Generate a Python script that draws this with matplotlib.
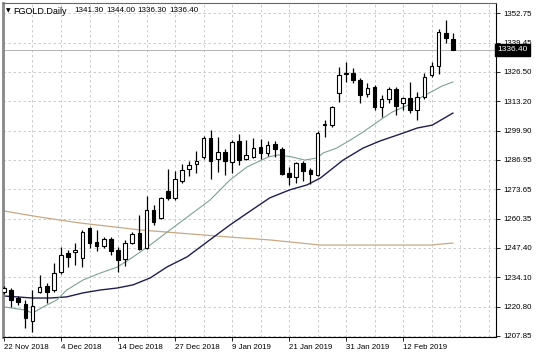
import matplotlib
matplotlib.use("Agg")
import matplotlib.pyplot as plt

# daily candles, 22 Nov 2018 .. 15 Feb 2019
opens = [1227.4, 1228.2, 1224.9, 1222.2, 1214.6, 1227.6, 1230.3, 1228.5, 1236.6, 1245.1,
         1245.5, 1242.8, 1256.3, 1250.0, 1248.2, 1251.4, 1246.4, 1242.4, 1249.6, 1254.1,
         1247.3, 1264.4, 1260.8, 1272.9, 1269.8, 1277.4, 1282.8, 1285.0, 1288.2, 1296.7,
         1287.3, 1290.4, 1285.9, 1295.3, 1287.3, 1288.2, 1292.6, 1289.9, 1293.9, 1291.7,
         1281.0, 1279.2, 1285.5, 1282.3, 1280.1, 1302.4, 1302.5, 1316.9, 1325.3, 1325.8,
         1322.7, 1316.4, 1319.6, 1310.6, 1314.2, 1318.7, 1312.4, 1314.6, 1309.2, 1315.1,
         1324.9, 1329.0, 1343.8, 1341.3]
highs = [1230.0, 1229.4, 1225.8, 1224.0, 1228.5, 1235.2, 1231.6, 1240.6, 1247.8, 1246.4,
         1249.6, 1255.4, 1256.8, 1255.4, 1252.3, 1252.3, 1247.8, 1250.9, 1254.5, 1262.1,
         1270.6, 1266.6, 1270.2, 1282.8, 1281.9, 1285.0, 1286.4, 1290.8, 1297.6, 1300.3,
         1297.1, 1291.8, 1295.8, 1298.5, 1295.8, 1296.7, 1296.2, 1295.3, 1295.3, 1292.6,
         1283.7, 1285.9, 1286.4, 1283.2, 1299.8, 1304.8, 1311.0, 1328.5, 1330.8, 1328.1,
         1323.6, 1321.3, 1320.5, 1316.0, 1319.6, 1319.6, 1315.1, 1321.8, 1317.3, 1325.8,
         1330.8, 1345.6, 1349.6, 1344.0]
lows = [1226.5, 1220.9, 1221.7, 1211.4, 1209.6, 1227.0, 1222.6, 1227.6, 1235.7, 1238.8,
        1239.7, 1238.8, 1247.3, 1246.0, 1247.3, 1244.2, 1236.6, 1239.3, 1249.1, 1246.4,
        1246.9, 1257.6, 1260.3, 1268.9, 1268.9, 1276.5, 1279.6, 1281.0, 1287.3, 1278.3,
        1281.4, 1280.1, 1281.0, 1284.6, 1286.9, 1287.7, 1287.3, 1288.6, 1288.2, 1280.1,
        1275.6, 1276.5, 1277.4, 1276.0, 1279.6, 1297.1, 1301.6, 1312.8, 1321.8, 1321.3,
        1312.4, 1315.1, 1309.2, 1306.1, 1312.4, 1307.0, 1309.2, 1307.9, 1304.8, 1314.2,
        1324.0, 1325.4, 1339.3, 1336.3]
closes = [1229.2, 1224.0, 1223.1, 1215.9, 1221.3, 1229.8, 1227.6, 1236.1, 1244.2, 1243.3,
          1246.5, 1254.5, 1249.5, 1248.2, 1251.4, 1246.0, 1241.9, 1249.6, 1253.6, 1246.9,
          1264.4, 1259.0, 1269.8, 1269.8, 1278.3, 1282.3, 1284.6, 1286.4, 1296.7, 1286.4,
          1290.4, 1286.4, 1294.9, 1286.8, 1289.0, 1292.2, 1289.9, 1293.5, 1291.7, 1280.5,
          1279.2, 1285.5, 1281.9, 1280.5, 1298.9, 1302.9, 1310.6, 1324.9, 1325.8, 1322.7,
          1316.0, 1319.1, 1310.6, 1314.2, 1318.7, 1311.0, 1314.6, 1309.2, 1315.1, 1324.0,
          1329.0, 1344.2, 1341.5, 1336.4]

# moving averages (bar index, value)
fast_idx = [0, 3, 4, 5.5, 7.4, 8.8, 11.1, 13.5, 15.9, 18.1, 20.5, 23.3, 26.1, 28.9, 31.7,
            34.1, 37.1, 38.5, 40.4, 42.2, 43.9, 44.8, 46.7, 48.6, 50.4, 52.8, 54.5, 56.7,
            59.1, 61.5, 63]
fast_val = [1220.8, 1219.4, 1218.0, 1220.8, 1223.9, 1228.4, 1232.9, 1236.0, 1238.7, 1243.2,
            1248.6, 1255.4, 1262.1, 1268.8, 1277.8, 1283.7, 1288.2, 1289.1, 1288.2, 1286.8,
            1287.7, 1290.0, 1292.2, 1295.8, 1299.4, 1304.8, 1308.4, 1311.5, 1316.0, 1320.1,
            1321.9]
slow_idx = [0, 4, 6.5, 8.8, 11.1, 13.5, 15.9, 18.1, 20.5, 22.9, 25.7, 28.5, 31.7, 34.8,
            37.3, 40.1, 42.5, 44.4, 47.6, 50.4, 52.8, 56, 58, 60.1, 63]
slow_val = [1225.7, 1224.8, 1224.8, 1225.3, 1227.1, 1228.4, 1229.3, 1230.7, 1233.8, 1238.8,
            1243.3, 1250.0, 1257.6, 1264.4, 1269.8, 1273.4, 1275.6, 1278.7, 1286.8, 1292.2,
            1295.4, 1298.9, 1301.2, 1302.5, 1307.9]
long_idx = [0, 5, 10.7, 19.1, 26.1, 31.7, 37.3, 44.4, 52.8, 59.8, 63]
long_val = [1263.9, 1261.2, 1258.5, 1255.4, 1253.6, 1252.2, 1250.9, 1248.6, 1248.6, 1248.6,
            1249.5]

price_ticks = [1352.75, 1339.45, 1326.50, 1313.20, 1299.90, 1286.95, 1273.65, 1260.35,
               1247.40, 1234.10, 1220.80, 1207.85]
date_pos = [0, 8, 16, 24, 32, 40, 48, 56]
date_labels = ["22 Nov 2018", "4 Dec 2018", "14 Dec 2018", "27 Dec 2018", "9 Jan 2019",
               "21 Jan 2019", "31 Jan 2019", "12 Feb 2019"]
last_price = 1336.40

plt.rcParams['font.family'] = ['Liberation Sans', 'DejaVu Sans']
W, H = 536, 358
fig = plt.figure(figsize=(W / 100, H / 100), dpi=100, facecolor='white')
ax = fig.add_axes([3 / W, 1 - 337 / H, 493 / W, 334 / H])
ax.set_xlim(-0.14, 69.05)
ax.set_ylim(1207.28, 1357.38)

# grid
ax.set_xticks(date_pos)
ax.set_xticks(range(4, 69, 4), minor=True)
ax.set_yticks(price_ticks)
ax.grid(True, which='both', color='#c4c4c4', linestyle=(0, (3, 3)), linewidth=0.6)
ax.set_axisbelow(True)

# moving averages
ax.plot(long_idx, long_val, color='#c9a882', lw=0.9)
ax.plot(slow_idx, slow_val, color='#1e1e52', lw=1.0)
ax.plot(fast_idx, fast_val, color='#7fa291', lw=0.8)

# price line
ax.axhline(last_price, color='#a8a8a8', lw=0.6)

# candles
x = list(range(len(opens)))
ax.vlines(x, lows, highs, color='black', lw=0.9, zorder=3)
bottoms = [min(o, c) for o, c in zip(opens, closes)]
heights = [max(abs(c - o), 0.3) for o, c in zip(opens, closes)]
fills = ['white' if c >= o else 'black' for o, c in zip(opens, closes)]
ax.bar(x, heights, bottom=bottoms, width=0.5, color=fills, edgecolor='black',
       linewidth=0.8, zorder=4)

# axes styling
ax.yaxis.tick_right()
ax.tick_params(axis='y', which='major', length=3, width=0.6, pad=2, labelsize=5.7)
ax.tick_params(axis='x', which='major', length=3, width=0.6, pad=2, labelsize=5.7)
ax.tick_params(axis='x', which='minor', length=0)
ax.set_yticklabels(["%.2f" % p for p in price_ticks])
ax.set_xticklabels(date_labels)
for lab in ax.get_xticklabels():
    lab.set_ha('left')
ax.spines['left'].set_color('#888888')
ax.spines['left'].set_linewidth(2)
ax.spines['top'].set_color('#666666')
ax.spines['top'].set_linewidth(0.8)
ax.spines['right'].set_linewidth(0.8)
ax.spines['bottom'].set_linewidth(0.8)

# current price tag
ax.text(1.003, last_price, "%.2f" % last_price, transform=ax.get_yaxis_transform(),
        ha='left', va='center', fontsize=6.0, color='white',
        bbox=dict(boxstyle='square,pad=0.3', fc='black', ec='black'))

# header
fig.text(6 / W, 1 - 11 / H, "\u25bc", fontsize=4.2, family='DejaVu Sans', va='center')
fig.text(13 / W, 1 - 11 / H, "FGOLD.Daily", fontsize=6.5, va='center')
for px, val in zip([74, 106, 137, 169], ["1341.30", "1344.00", "1336.30", "1336.40"]):
    fig.text(px / W, 1 - 11 / H, val, fontsize=5.8, va='center')

fig.savefig("out.png", dpi=100, facecolor='white')
